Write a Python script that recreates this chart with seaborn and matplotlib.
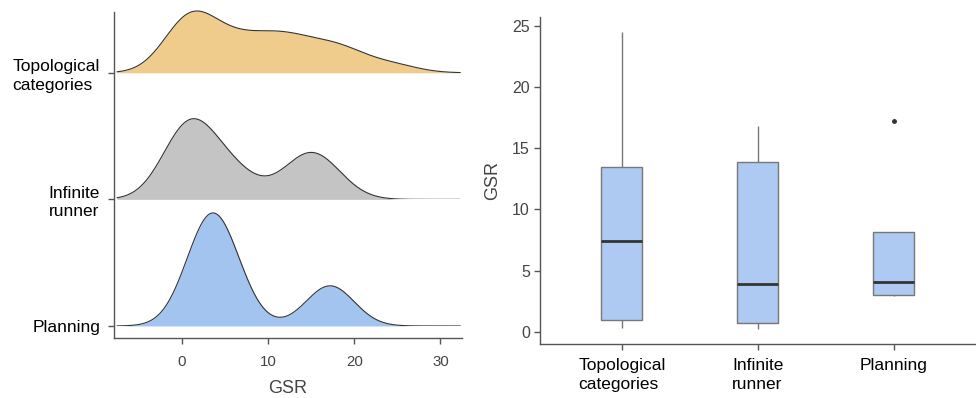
import numpy as np
import pandas as pd
import matplotlib
matplotlib.use("Agg")
import matplotlib.pyplot as plt
import seaborn as sns

# ---------------- data ----------------
categories = ["Topological categories", "Infinite runner", "Planning"]
tick_labels = ["Topological\ncategories", "Infinite\nrunner", "Planning"]
gsr_topological = [0.33, 0.45, 0.6, 0.7, 0.85, 0.95, 2.0, 3.5, 5.0, 6.3, 7.43,
                   8.8, 10.6, 11.4, 12.3, 13.5, 15.5, 17.2, 18.5, 20.0, 24.5]
gsr_infinite = [0.19, 0.45, 0.68, 1.3, 3.87, 6.5, 13.9, 14.7, 16.8]
gsr_planning = [2.88, 3.07, 5.09, 17.2]
x_ticks = [0, 10, 20, 30]
y_ticks = [0, 5, 10, 15, 20, 25]

# ---------------- style ----------------
sns.set_theme(style="ticks")
plt.rcParams["font.family"] = ["Liberation Sans", "DejaVu Sans"]

fill_colors = {"Topological categories": "#F0CC8C",
               "Infinite runner": "#C4C4C4",
               "Planning": "#A4C4F0"}
bw_adj = {"Topological categories": 0.72,
          "Infinite runner": 0.67,
          "Planning": 0.54}
series = {"Topological categories": gsr_topological,
          "Infinite runner": gsr_infinite,
          "Planning": gsr_planning}
baselines = {"Topological categories": 3, "Infinite runner": 2, "Planning": 1}

axis_col = "#555555"
tick_text_col = "#444444"

fig = plt.figure(figsize=(9.76, 3.98), dpi=100)
axL = fig.add_axes([0.1168, 0.1508, 0.3566, 0.819])
axR = fig.add_axes([0.5536, 0.135, 0.4454, 0.8216])

# ---------------- left: ridgeline ----------------
xlo, xhi = -7.85, 32.5
axL.set_xlim(xlo, xhi)
axL.set_ylim(0.905, 3.48)
H = 1.0
insets = []
gmax = 0
for cat in categories:
    base = baselines[cat]
    ins = axL.inset_axes([xlo, base, xhi - xlo, H], transform=axL.transData)
    ins.set_xlim(xlo, xhi)
    sns.kdeplot(x=series[cat], ax=ins, fill=True, color=fill_colors[cat],
                alpha=1, linewidth=0, bw_adjust=bw_adj[cat], cut=20,
                clip=(-7.5, 32.3), gridsize=500)
    sns.kdeplot(x=series[cat], ax=ins, fill=False, color="#333333",
                linewidth=0.8, bw_adjust=bw_adj[cat], cut=20,
                clip=(-7.5, 32.3), gridsize=500)
    ins.set_xlim(xlo, xhi)
    ins.set_xticks([])
    ins.set_yticks([])
    ins.set_xlabel("")
    ins.set_ylabel("")
    ins.axis("off")
    ins.patch.set_alpha(0)
    gmax = max(gmax, ins.lines[-1].get_ydata().max())
    insets.append(ins)
for ins in insets:
    ins.set_ylim(0, gmax / 0.893)

axL.set_yticks([baselines[c] for c in categories])
axL.set_yticklabels(tick_labels, fontsize=12.5, color="black",
                    multialignment="left", linespacing=1.3)
axL.set_xticks(x_ticks)
axL.set_xticklabels([str(t) for t in x_ticks], fontsize=10.8, color=tick_text_col)
axL.set_xlabel("GSR", fontsize=13, color=tick_text_col, labelpad=8)
axL.set_ylabel("")
sns.despine(ax=axL)
for s in ("left", "bottom"):
    axL.spines[s].set_color(axis_col)
    axL.spines[s].set_linewidth(1)
axL.tick_params(axis="both", length=4, width=1, color=axis_col)
axL.tick_params(axis="y", pad=6)
axL.tick_params(axis="x", pad=8)

# ---------------- right: boxplot ----------------
df = pd.DataFrame({
    "game": sum([[c] * len(series[c]) for c in categories], []),
    "GSR": sum([list(series[c]) for c in categories], []),
})
sns.boxplot(data=df, x="game", y="GSR", order=categories, ax=axR,
            color="#AECAF2", saturation=1, width=0.3, linecolor="#777777",
            linewidth=1, showcaps=False,
            medianprops=dict(color="#333333", linewidth=2),
            flierprops=dict(marker="o", markersize=2.5, markerfacecolor="#333333",
                            markeredgecolor="#333333"))
axR.set_xlim(-0.6, 2.6)
axR.set_ylim(-1.03, 25.7)
axR.set_yticks(y_ticks)
axR.set_yticklabels([str(t) for t in y_ticks], fontsize=11.5, color=tick_text_col)
axR.set_xticks(range(len(categories)))
axR.set_xticklabels(tick_labels, fontsize=12.5, color="black",
                    multialignment="left", linespacing=1.3)
axR.set_xlabel("")
axR.set_ylabel("GSR", fontsize=13, color=tick_text_col, labelpad=8)
sns.despine(ax=axR)
for s in ("left", "bottom"):
    axR.spines[s].set_color(axis_col)
    axR.spines[s].set_linewidth(1)
axR.tick_params(axis="both", length=4, width=1, color=axis_col)
axR.tick_params(axis="x", pad=6)

fig.savefig("out.png", dpi=100)
